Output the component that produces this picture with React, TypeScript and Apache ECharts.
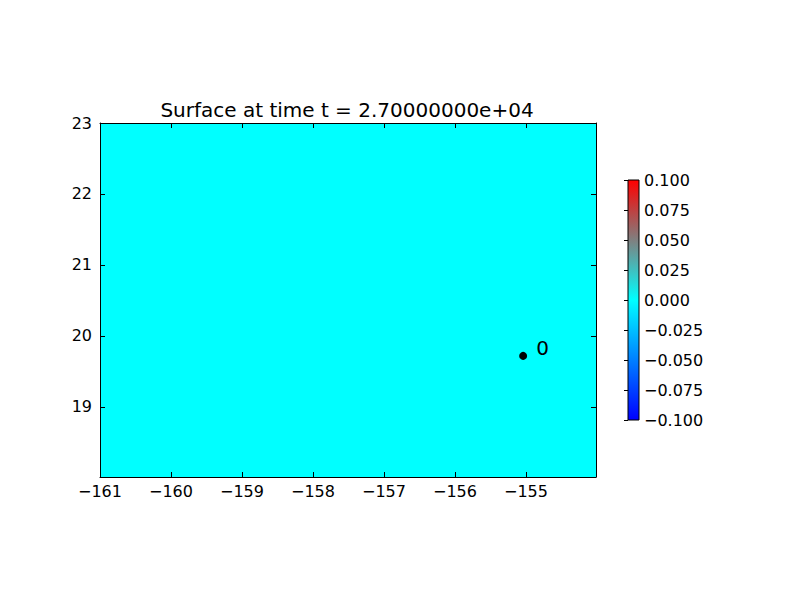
import React, { useEffect, useRef } from "react";
import * as echarts from "echarts";

// ---- data ----
const titleText = "Surface at time t = 2.70000000e+04";
const xExtent = [-161, -154.014];
const yExtent = [18.014, 23];
const xTicks = [-161, -160, -159, -158, -157, -156, -155];
const yTicks = [19, 20, 21, 22, 23];
const surfaceValue = 0;
const gaugeX = [-155.04];
const gaugeY = [19.72];
const gaugeLabels = ["0"];
const colorbarMin = -0.1;
const colorbarMax = 0.1;
const colorbarStep = 0.025;
const cmapColors = ["#0000ff", "#00ffff", "#ff0000"];

const FONT = "DejaVu Sans";
const minus = (s: string) => s.replace("-", "\u2212");

export default function App() {
  const ref = useRef<HTMLDivElement>(null);
  useEffect(() => {
    if (!ref.current) return;
    const chart = echarts.init(ref.current, undefined, { renderer: "svg" });
    const lineCommon = { show: true, onZero: false, lineStyle: { color: "#000", width: 1 } };
    const tick = (vals: number[]) => ({
      show: true,
      inside: true,
      length: 5,
      customValues: vals,
      lineStyle: { color: "#000", width: 1 },
    });
    const label = (vals: number[], show: boolean, margin: number) => ({
      show,
      margin,
      customValues: vals,
      fontFamily: FONT,
      fontSize: 16,
      color: "#000",
      formatter: (v: number) => minus(String(Math.round(v))),
    });
    const option: any = {
      animation: false,
      backgroundColor: "#ffffff",
      textStyle: { fontFamily: FONT },
      title: {
        text: titleText,
        left: 342,
        top: 95,
        textAlign: "center",
        textStyle: { fontFamily: FONT, fontSize: 20, fontWeight: "normal", color: "#000" },
      },
      visualMap: {
        show: false,
        type: "continuous",
        min: colorbarMin,
        max: colorbarMax,
        dimension: 4,
        seriesIndex: 0,
        inRange: { color: cmapColors },
      },
      grid: [
        { left: 100, top: 123, width: 496, height: 354, show: false },
        {
          left: 628,
          top: 180,
          width: 11,
          height: 240,
          show: true,
          borderColor: "#000",
          borderWidth: 1,
          backgroundColor: new echarts.graphic.LinearGradient(0, 1, 0, 0, [
            { offset: 0, color: cmapColors[0] },
            { offset: 0.5, color: cmapColors[1] },
            { offset: 1, color: cmapColors[2] },
          ]),
        },
      ],
      xAxis: [
        {
          type: "value",
          gridIndex: 0,
          position: "bottom",
          min: xExtent[0],
          max: xExtent[1],
          z: 10,
          axisLine: lineCommon,
          axisTick: tick(xTicks),
          splitLine: { show: false },
          axisLabel: label(xTicks, true, 6),
        },
        {
          type: "value",
          gridIndex: 0,
          position: "top",
          min: xExtent[0],
          max: xExtent[1],
          z: 10,
          axisLine: lineCommon,
          axisTick: tick(xTicks),
          splitLine: { show: false },
          axisLabel: label(xTicks, false, 6),
        },
        {
          type: "value",
          gridIndex: 1,
          min: 0,
          max: 1,
          show: false,
        },
      ],
      yAxis: [
        {
          type: "value",
          gridIndex: 0,
          position: "left",
          min: yExtent[0],
          max: yExtent[1],
          z: 10,
          axisLine: lineCommon,
          axisTick: tick(yTicks),
          splitLine: { show: false },
          axisLabel: label(yTicks, true, 8),
        },
        {
          type: "value",
          gridIndex: 0,
          position: "right",
          min: yExtent[0],
          max: yExtent[1],
          z: 10,
          axisLine: lineCommon,
          axisTick: tick(yTicks),
          splitLine: { show: false },
          axisLabel: label(yTicks, false, 8),
        },
        {
          type: "value",
          gridIndex: 1,
          position: "right",
          min: colorbarMin,
          max: colorbarMax,
          interval: colorbarStep,
          z: 10,
          axisLine: { show: false },
          axisTick: { show: true, inside: true, length: 4, lineStyle: { color: "#000", width: 1 } },
          splitLine: { show: false },
          axisLabel: {
            show: true,
            margin: 5,
            fontFamily: FONT,
            fontSize: 16,
            color: "#000",
            formatter: (v: number) => minus(v.toFixed(3)),
          },
        },
      ],
      series: [
        {
          type: "custom",
          xAxisIndex: 0,
          yAxisIndex: 0,
          z: 1,
          data: [[xExtent[0], yExtent[0], xExtent[1], yExtent[1], surfaceValue]],
          renderItem: (params: any, api: any) => {
            const p0 = api.coord([api.value(0), api.value(3)]);
            const p1 = api.coord([api.value(2), api.value(1)]);
            return {
              type: "rect",
              shape: { x: p0[0], y: p0[1], width: p1[0] - p0[0], height: p1[1] - p0[1] },
              style: { fill: api.visual("color") },
            };
          },
        },
        {
          type: "scatter",
          xAxisIndex: 0,
          yAxisIndex: 0,
          z: 5,
          symbol: "circle",
          symbolSize: 8,
          itemStyle: { color: "#000", opacity: 1 },
          data: gaugeX.map((x, i) => ({
            value: [x, gaugeY[i]],
            label: {
              show: true,
              formatter: gaugeLabels[i],
              position: "right",
              distance: 5,
              offset: [4, -8],
              fontFamily: FONT,
              fontSize: 20,
              color: "#000",
            },
          })),
        },
      ],
    };
    chart.setOption(option);
    return () => chart.dispose();
  }, []);
  return (
    <div
      ref={ref}
      style={{ position: "fixed", left: 0, top: 0, width: 800, height: 600 }}
    />
  );
}
